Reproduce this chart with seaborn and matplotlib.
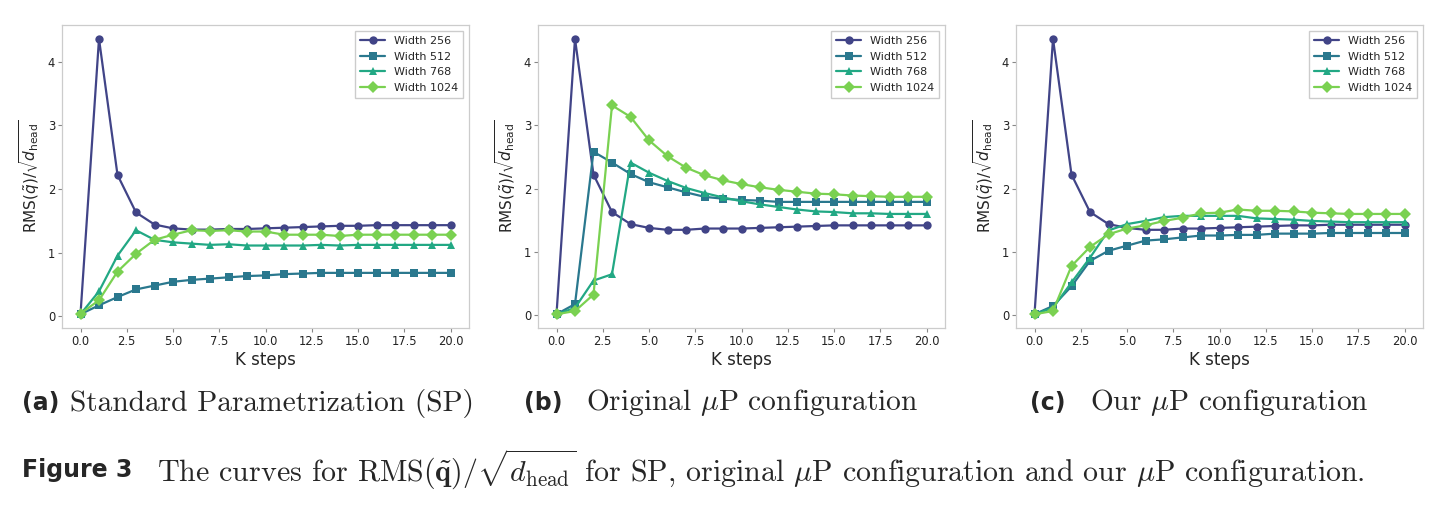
import numpy as np
import seaborn as sns
import matplotlib.pyplot as plt

# K steps 0..20
steps = list(range(21))
widths = ['Width 256', 'Width 512', 'Width 768', 'Width 1024']

# (a) standard parametrization
sp_256 = [0.03, 4.36, 2.22, 1.63, 1.44, 1.38, 1.36, 1.36, 1.37, 1.37, 1.38,
          1.39, 1.40, 1.41, 1.42, 1.42, 1.43, 1.43, 1.43, 1.43, 1.43]
sp_512 = [0.03, 0.17, 0.30, 0.42, 0.48, 0.54, 0.57, 0.59, 0.61, 0.63, 0.64,
          0.66, 0.67, 0.68, 0.68, 0.68, 0.68, 0.68, 0.68, 0.68, 0.68]
sp_768 = [0.03, 0.39, 0.95, 1.35, 1.20, 1.16, 1.14, 1.12, 1.13, 1.11, 1.11,
          1.11, 1.11, 1.12, 1.11, 1.12, 1.12, 1.12, 1.12, 1.12, 1.12]
sp_1024 = [0.04, 0.25, 0.70, 0.98, 1.20, 1.28, 1.35, 1.34, 1.35, 1.33, 1.33,
           1.28, 1.28, 1.28, 1.26, 1.28, 1.28, 1.28, 1.28, 1.28, 1.28]

# (b) original muP
orig_256 = [0.02, 4.36, 2.22, 1.63, 1.44, 1.38, 1.35, 1.35, 1.37, 1.37, 1.37,
            1.38, 1.39, 1.40, 1.41, 1.42, 1.42, 1.42, 1.42, 1.42, 1.42]
orig_512 = [0.02, 0.18, 2.58, 2.41, 2.23, 2.10, 2.02, 1.94, 1.87, 1.84, 1.82,
            1.81, 1.79, 1.79, 1.79, 1.79, 1.79, 1.79, 1.79, 1.79, 1.79]
orig_768 = [0.02, 0.12, 0.55, 0.65, 2.41, 2.25, 2.12, 2.01, 1.93, 1.86, 1.80,
            1.75, 1.71, 1.67, 1.64, 1.63, 1.61, 1.61, 1.60, 1.60, 1.60]
orig_1024 = [0.02, 0.07, 0.33, 3.31, 3.13, 2.76, 2.51, 2.33, 2.21, 2.13, 2.07,
             2.02, 1.98, 1.95, 1.92, 1.91, 1.89, 1.88, 1.87, 1.87, 1.87]

# (c) our muP
our_256 = [0.02, 4.36, 2.22, 1.63, 1.44, 1.38, 1.35, 1.35, 1.37, 1.37, 1.38,
           1.39, 1.40, 1.41, 1.42, 1.42, 1.43, 1.43, 1.43, 1.43, 1.43]
our_512 = [0.02, 0.15, 0.46, 0.86, 1.02, 1.10, 1.18, 1.20, 1.23, 1.26, 1.26,
           1.27, 1.27, 1.29, 1.29, 1.29, 1.30, 1.30, 1.30, 1.30, 1.30]
our_768 = [0.02, 0.12, 0.52, 0.91, 1.34, 1.44, 1.49, 1.55, 1.57, 1.57, 1.57,
           1.57, 1.53, 1.52, 1.51, 1.49, 1.48, 1.47, 1.47, 1.47, 1.47]
our_1024 = [0.02, 0.07, 0.78, 1.08, 1.28, 1.37, 1.42, 1.49, 1.54, 1.61, 1.62,
            1.67, 1.65, 1.65, 1.64, 1.62, 1.61, 1.60, 1.60, 1.60, 1.60]

panels = [
    ([sp_256, sp_512, sp_768, sp_1024], '(a)', 'Standard Parametrization (SP)'),
    ([orig_256, orig_512, orig_768, orig_1024], '(b)', r'Original $\mu$P configuration'),
    ([our_256, our_512, our_768, our_1024], '(c)', r'Our $\mu$P configuration'),
]

sns.set_style('whitegrid', {'axes.grid': False, 'xtick.bottom': True, 'ytick.left': True,
                            'axes.edgecolor': '#cccccc', 'xtick.color': '#888888',
                            'ytick.color': '#888888'})
plt.rcParams['font.family'] = ['DejaVu Sans']

colors = sns.color_palette('viridis', 4)
markers = ['o', 's', '^', 'D']

W, H = 1443, 521
fig = plt.figure(figsize=(W / 100, H / 100), dpi=100)
lefts = [62, 538, 1016]
cap_x = [(22, 70), (524, 586), (1030, 1090)]

for i, (series, tag, caption) in enumerate(panels):
    ax = fig.add_axes([lefts[i] / W, 1 - 328 / H, 407 / W, (328 - 25) / H])
    for vals, lab, c, m in zip(series, widths, colors, markers):
        sns.lineplot(x=steps, y=vals, ax=ax, color=c, marker=m, markersize=6,
                     markeredgewidth=0, linewidth=1.6, label=lab)
    ax.set_xlabel('K steps', fontsize=12, labelpad=2)
    ax.set_ylabel(r'RMS$(\tilde{q})/\sqrt{d_{\mathrm{head}}}$', fontsize=11, labelpad=4)
    ax.tick_params(labelsize=8.3, labelcolor='#222222', length=3, width=0.8, pad=2)
    ax.set_yticks([0, 1, 2, 3, 4])
    ax.legend(loc='upper right', fontsize=8, frameon=True, edgecolor='#cccccc',
              fancybox=False, framealpha=1, handlelength=2.2, borderpad=0.5)
    for s in ax.spines.values():
        s.set_linewidth(0.9)

    fig.text(cap_x[i][0] / W, 1 - 403 / H, tag, fontsize=17, fontweight='bold',
             ha='left', va='center', family='DejaVu Sans')
    fig.text(cap_x[i][1] / W, 1 - 403 / H, caption, fontsize=21.2, family='cmr10',
             ha='left', va='center', math_fontfamily='cm')

fig.text(22 / W, 1 - 470 / H, 'Figure 3', fontsize=17, fontweight='bold',
         ha='left', va='center', family='DejaVu Sans')
fig.text(157 / W, 1 - 470 / H,
         r'The curves for $\mathrm{RMS}(\tilde{\mathbf{q}})/\sqrt{d_{\mathrm{head}}}$ for SP, '
         r'original $\mu$P configuration and our $\mu$P configuration.',
         fontsize=21.6, family='cmr10', ha='left', va='center', math_fontfamily='cm')

fig.savefig('out.png', dpi=100)
